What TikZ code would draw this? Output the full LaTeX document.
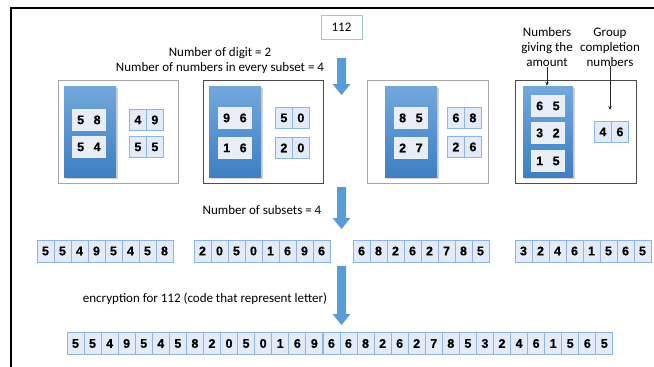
\documentclass[tikz,border=0pt]{standalone}
\usepackage{fontspec}
\setmainfont{Carlito}
\newfontfamily\digitfont{Liberation Sans}[BoldFont={Liberation Sans Bold}, BoldFeatures={FakeBold=0.5}]
\usetikzlibrary{arrows.meta,shadows}
\definecolor{arrowblue}{HTML}{5B9BD5}
\definecolor{blueTop}{HTML}{72A8DC}
\definecolor{blueBot}{HTML}{3F7FC2}
\definecolor{cellfill}{HTML}{E2EBF7}
\definecolor{cellborder}{HTML}{8DB4E2}
\definecolor{innerfill}{HTML}{E9EEF6}
\tikzset{
  txt/.style={inner sep=0pt, font=\fontsize{13}{15}\selectfont, align=center},
  cellbox/.style={draw=cellborder, fill=cellfill, line width=0.8pt, minimum width=17pt, minimum height=22pt, inner sep=0pt, font=\digitfont\bfseries\fontsize{12.5}{14}\selectfont},
  pairout/.style={cellbox, minimum height=21pt},
  pairin/.style={cellbox, draw=white!80!cellborder, fill=innerfill, minimum width=16.5pt, minimum height=21pt},
  panel/.style={draw=#1, line width=0.9pt, fill=white, inner sep=0pt},
  bluecol/.style={top color=blueTop, bottom color=blueBot, draw=none, inner sep=0pt, drop shadow={shadow xshift=1.5pt, shadow yshift=-1.5pt, opacity=0.35}},
  smallarrow/.style={-{Stealth[length=4pt,width=3.5pt]}, line width=0.6pt, black!85},
}
% x1 y1 x2 y2 -> node
\newcommand\boxnode[6]{\node[#6, minimum width={#4-#2}, minimum height={#5-#3}] (#1) at ({(#2+#4)/2},{(#3+#5)/2}) {};}
% pair: name, left x, top y, style, d1, d2, width
\newcommand\pairnode[7]{%
  \node[#4, anchor=north west] (#1a) at (#2,#3) {#5};
  \node[#4, anchor=north west] (#1b) at ({#2+#7},#3) {#6};}
\newcommand\blockarrow[4]{% name, x, ytop, ybottom
  \fill[arrowblue] ({#2-4.5},#3) -- ({#2+4.5},#3) -- ({#2+4.5},{#4-11}) -- ({#2+9},{#4-11}) -- (#2,#4) -- ({#2-9},{#4-11}) -- ({#2-4.5},{#4-11}) -- cycle;
  \coordinate (#1) at (#2,#4);}
\begin{document}
\begin{tikzpicture}[x=1pt,y=-1pt]
\useasboundingbox (0,0) rectangle (654,367);
\clip (0,0) rectangle (654,367);
\fill[white] (0,0) rectangle (654,367);
\draw[line width=2pt] (11,375) -- (11,8) -- (665,8);

% top value
\node[draw=cellborder!80, line width=0.8pt, minimum width=41pt, minimum height=24pt, inner sep=0pt, font=\fontsize{13}{15}\selectfont] (val) at (341.5,27) {112};
\blockarrow{a1}{341.5}{58}{95}
\node[txt] (t1) at (220,60.5) {Number of digit = 2\\Number of numbers in every subset = 4};

% panels
\boxnode{p1}{58}{80}{178}{183}{panel=black!35}
\boxnode{p2}{203}{80}{323}{183}{panel=black!70}
\boxnode{p3}{367}{80}{488}{183}{panel=black!35}
\boxnode{p4}{515}{80}{636}{183}{panel=black!70}

\boxnode{b1}{64}{86}{116}{177}{bluecol}
\boxnode{b2}{209}{86}{261}{177}{bluecol}
\boxnode{b3}{385}{86}{437}{177}{bluecol}
\boxnode{b4}{523}{86}{573}{177}{bluecol}

\pairnode{q11}{72}{109}{pairin}{5}{8}{16.5}
\pairnode{q12}{72}{136}{pairin}{5}{4}{16.5}
\pairnode{r11}{129}{109}{pairout}{4}{9}{17}
\pairnode{r12}{129}{136}{pairout}{5}{5}{17}

\pairnode{q21}{218}{107}{pairin}{9}{6}{16.5}
\pairnode{q22}{218}{137}{pairin}{1}{6}{16.5}
\pairnode{r21}{275}{107}{pairout}{5}{0}{17}
\pairnode{r22}{275}{137}{pairout}{2}{0}{17}

\pairnode{q31}{394}{107}{pairin}{8}{5}{16.5}
\pairnode{q32}{394}{137}{pairin}{2}{7}{16.5}
\pairnode{r31}{447}{107}{pairout}{6}{8}{17}
\pairnode{r32}{447}{136}{pairout}{2}{6}{17}

\pairnode{q41}{531}{95}{pairin}{6}{5}{16.5}
\pairnode{q42}{531}{122}{pairin}{3}{2}{16.5}
\pairnode{q43}{531}{150}{pairin}{1}{5}{16.5}
\pairnode{r41}{594}{121}{pairout}{4}{6}{17}

% labels for panel 4
\node[txt] (lblA) at (547,47) {Numbers\\giving the\\amount};
\node[txt] (lblB) at (610,47) {Group\\completion\\numbers};
\coordinate (gtip) at (lblB.south |- 0,110);
\draw[smallarrow] (lblA.south) -- (lblA.south |- b4.north);
\draw[smallarrow] (lblB.south) -- (gtip);

% second arrow
\blockarrow{a2}{341.5}{187}{229}
\node[txt] (t2) at (262,210) {Number of subsets = 4};

% strips
\foreach \d [count=\i] in {5,5,4,9,5,4,5,8}
  \node[cellbox] (s1c\i) at ({37+8.5+17*(\i-1)},251) {\d};
\foreach \d [count=\i] in {2,0,5,0,1,6,9,6}
  \node[cellbox] (s2c\i) at ({194+8.5+17*(\i-1)},251) {\d};
\foreach \d [count=\i] in {6,8,2,6,2,7,8,5}
  \node[cellbox] (s3c\i) at ({353+8.5+17*(\i-1)},251) {\d};
\foreach \d [count=\i] in {3,2,4,6,1,5,6,5}
  \node[cellbox] (s4c\i) at ({515+8.5+17*(\i-1)},251) {\d};

% third arrow
\blockarrow{a3}{341.5}{266}{325}
\node[txt] (t3) at (205,299) {encryption for 112 (code that represent letter)};

% final strip
\foreach \d [count=\i] in {5,5,4,9,5,4,5,8,2,0,5,0,1,6,9,6,6,8,2,6,2,7,8,5,3,2,4,6,1,5,6,5}
  \node[cellbox] (fc\i) at ({67+8.5+17.06*(\i-1)},343.5) {\d};
\end{tikzpicture}
\end{document}
